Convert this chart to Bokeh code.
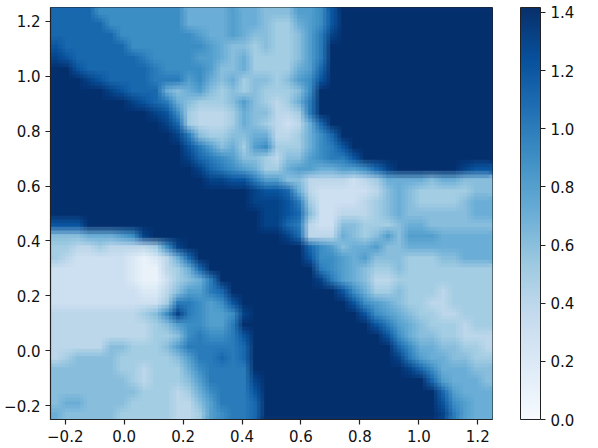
from bokeh.embed import file_html
from bokeh.resources import INLINE
from bokeh.plotting import figure
from bokeh.models import LinearColorMapper, ColorBar, FixedTicker, Range1d
from bokeh.palettes import Blues256
import numpy as np

x_ticks = [-0.2, 0.0, 0.2, 0.4, 0.6, 0.8, 1.0, 1.2]
y_ticks = [-0.2, 0.0, 0.2, 0.4, 0.6, 0.8, 1.0, 1.2]
cb_ticks = [0.0, 0.2, 0.4, 0.6, 0.8, 1.0, 1.2, 1.4]
x_labels = ["\u22120.2", "0.0", "0.2", "0.4", "0.6", "0.8", "1.0", "1.2"]
y_labels = ["\u22120.2", "0.0", "0.2", "0.4", "0.6", "0.8", "1.0", "1.2"]
cb_labels = ["0.0", "0.2", "0.4", "0.6", "0.8", "1.0", "1.2", "1.4"]

# tenths of the plotted value, one hex digit per cell, top row first
rows = [
 "BBBB999999 9977778776 66889CEEEE EEEEEEEEEE",
 "BBBBB99999 9977778776 55789CEEEE EEEEEEEEEE",
 "BBBBBB9999 9998778766 5568ADEEEE EEEEEEEEEE",
 "CBBBBBB999 9999876656 5568AEEEEE EEEEEEEEEE",
 "DCBBBBBBA9 9998876755 5568AEEEEE EEEEEEEEEE",
 "EECBBBBBBA 9999866755 5578BEEEEE EEEEEEEEEE",
 "EEEDCBBBBA AA89767566 5689CEEEEE EEEEEEEEEE",
 "EEEEEDCBBB 7678656565 5569EEEEEE EEEEEEEEEE",
 "EEEEEEEDCB A765556865 457AEEEEEE EEEEEEEEEE",
 "EEEEEEEEED C954445766 445AEEEEEE EEEEEEEEEE",
 "EEEEEEEEEE DB54445765 4347BEEEEE EEEEEEEEEE",
 "EEEEEEEEEE EDA6556677 44579BEEEE EEEEEEEEEE",
 "EEEEEEEEEE EECA867589 555 79ACEEE EEEEEEEEEE",
 "EEEEEEEEEE EEDBA98665 46689AACEE EEEEEEEEEE",
 "EEEEEEEEEE EEEDBA9875 5788778 89B DEEEEEEDCC",
 "EEEEEEEEEE EEEEDDCCA8 8664444345 7777677666",
 "EEEEEEEEEE EEEEEEEEDC CB74333334 6765555566",
 "EEEEEEEEEE EEEEEEEEDD DCA5333345 6765555677",
 "EEEEEEEEEE EEEEEEEEED DCB6334445 6766666677",
 "CCCEEEEEEE EEEEEEEEED DBA4336655 5677666666",
 "66677789DE EEEEEEEEEE EDB4447656 8688877777",
 "5544544445 9DEEEEEEEE EEEB986778 6677777777",
 "5433333212 47BEEEEEEE EEEC998786 6655566777",
 "3333333211 457BEEEEEE EEEEA98765 5655555555",
 "3333333211 3567AEEEEE EEEEDA8764 4555555555",
 "3333333322 4688ABEEEE EEEEEEC975 5655545555",
 "3333333333 5AA989CEEE EEEEEEEC98 7655445555",
 "4444444456 9DA9889DEE EEEEEEEEC9 8765544555",
 "4444444445 689988AEEE EEEEEEEEEC A876555455",
 "4444444445 569A99ACEE EEEEEEEEEE C976655444",
 "4444466555 68AAAAABEE EEEEEEEEEE EB97766554",
 "4566665555 568AABABEE EEEEEEEEEE EDA8776655",
 "6666665545 5579AAAAEE EEEEEEEEEE EEDB977766",
 "6666666545 5568AAAADE EEEEEEEEEE EEEEB87776",
 "6666666655 54579AAACE EEEEEEEEEE EEEEEB8777",
 "6776666555 54468AAABE EEEEEEEEEE EEEEEC9877",
 "7666665555 544589AABE EEEEEEEEEE EEEEEDA877",
]

grid = np.array([[int(c, 16) / 10 for c in r.replace(" ", "")] for r in rows])[::-1]

mapper = LinearColorMapper(palette=list(Blues256[::-1]), low=0.0, high=1.417)

p = figure(frame_width=442, frame_height=412,
           x_range=Range1d(-0.25, 1.25), y_range=Range1d(-0.25, 1.25),
           output_backend="svg", toolbar_location=None,
           min_border_left=43, min_border_top=7, min_border_bottom=0, min_border_right=0)
p.styles = {"margin-left": "1px"}

# the same grid is laid over itself at sub-cell offsets, which softens the cell steps
nrows, ncols = grid.shape
cw, ch = 1.5 / ncols, 1.5 / nrows
layers = [(0, 0)] + [(i, j) for i in (-1, 0, 1) for j in (-1, 0, 1) if (i, j) != (0, 0)]
for k, (i, j) in enumerate(layers):
    p.image(image=[grid], x=-0.25 + i * cw / 3, y=-0.25 + j * ch / 3, dw=1.5, dh=1.5,
            color_mapper=mapper, global_alpha=1 / (k + 1))

p.grid.visible = False
p.outline_line_color = "#222222"
p.outline_line_width = 1

for ax, ticks, labels in ((p.xaxis[0], x_ticks, x_labels), (p.yaxis[0], y_ticks, y_labels)):
    ax.ticker = FixedTicker(ticks=ticks)
    ax.major_label_overrides = dict(zip(ticks, labels))
    ax.minor_tick_line_color = None
    ax.major_tick_in = 0
    ax.major_tick_out = 5
    ax.major_tick_line_color = "#222222"
    ax.major_tick_line_width = 1.2
    ax.axis_line_color = "#222222"
    ax.axis_line_width = 1.2
    ax.major_label_text_font = "DejaVu Sans"
    ax.major_label_text_font_size = "15px"
    ax.major_label_text_color = "#111111"

cb = ColorBar(color_mapper=mapper, ticker=FixedTicker(ticks=cb_ticks), width=20, height=412,
              location=(28, 0), margin=0, padding=0, major_tick_in=0, major_tick_out=5,
              major_label_overrides=dict(zip(cb_ticks, cb_labels)),
              major_tick_line_color="#222222", major_tick_line_width=1.2, minor_tick_line_color=None,
              bar_line_color="#222222", border_line_color=None,
              major_label_text_font="DejaVu Sans", major_label_text_font_size="15px",
              major_label_text_color="#111111")
p.add_layout(cb, "right")

open("out.html", "w").write(file_html(p, INLINE))
